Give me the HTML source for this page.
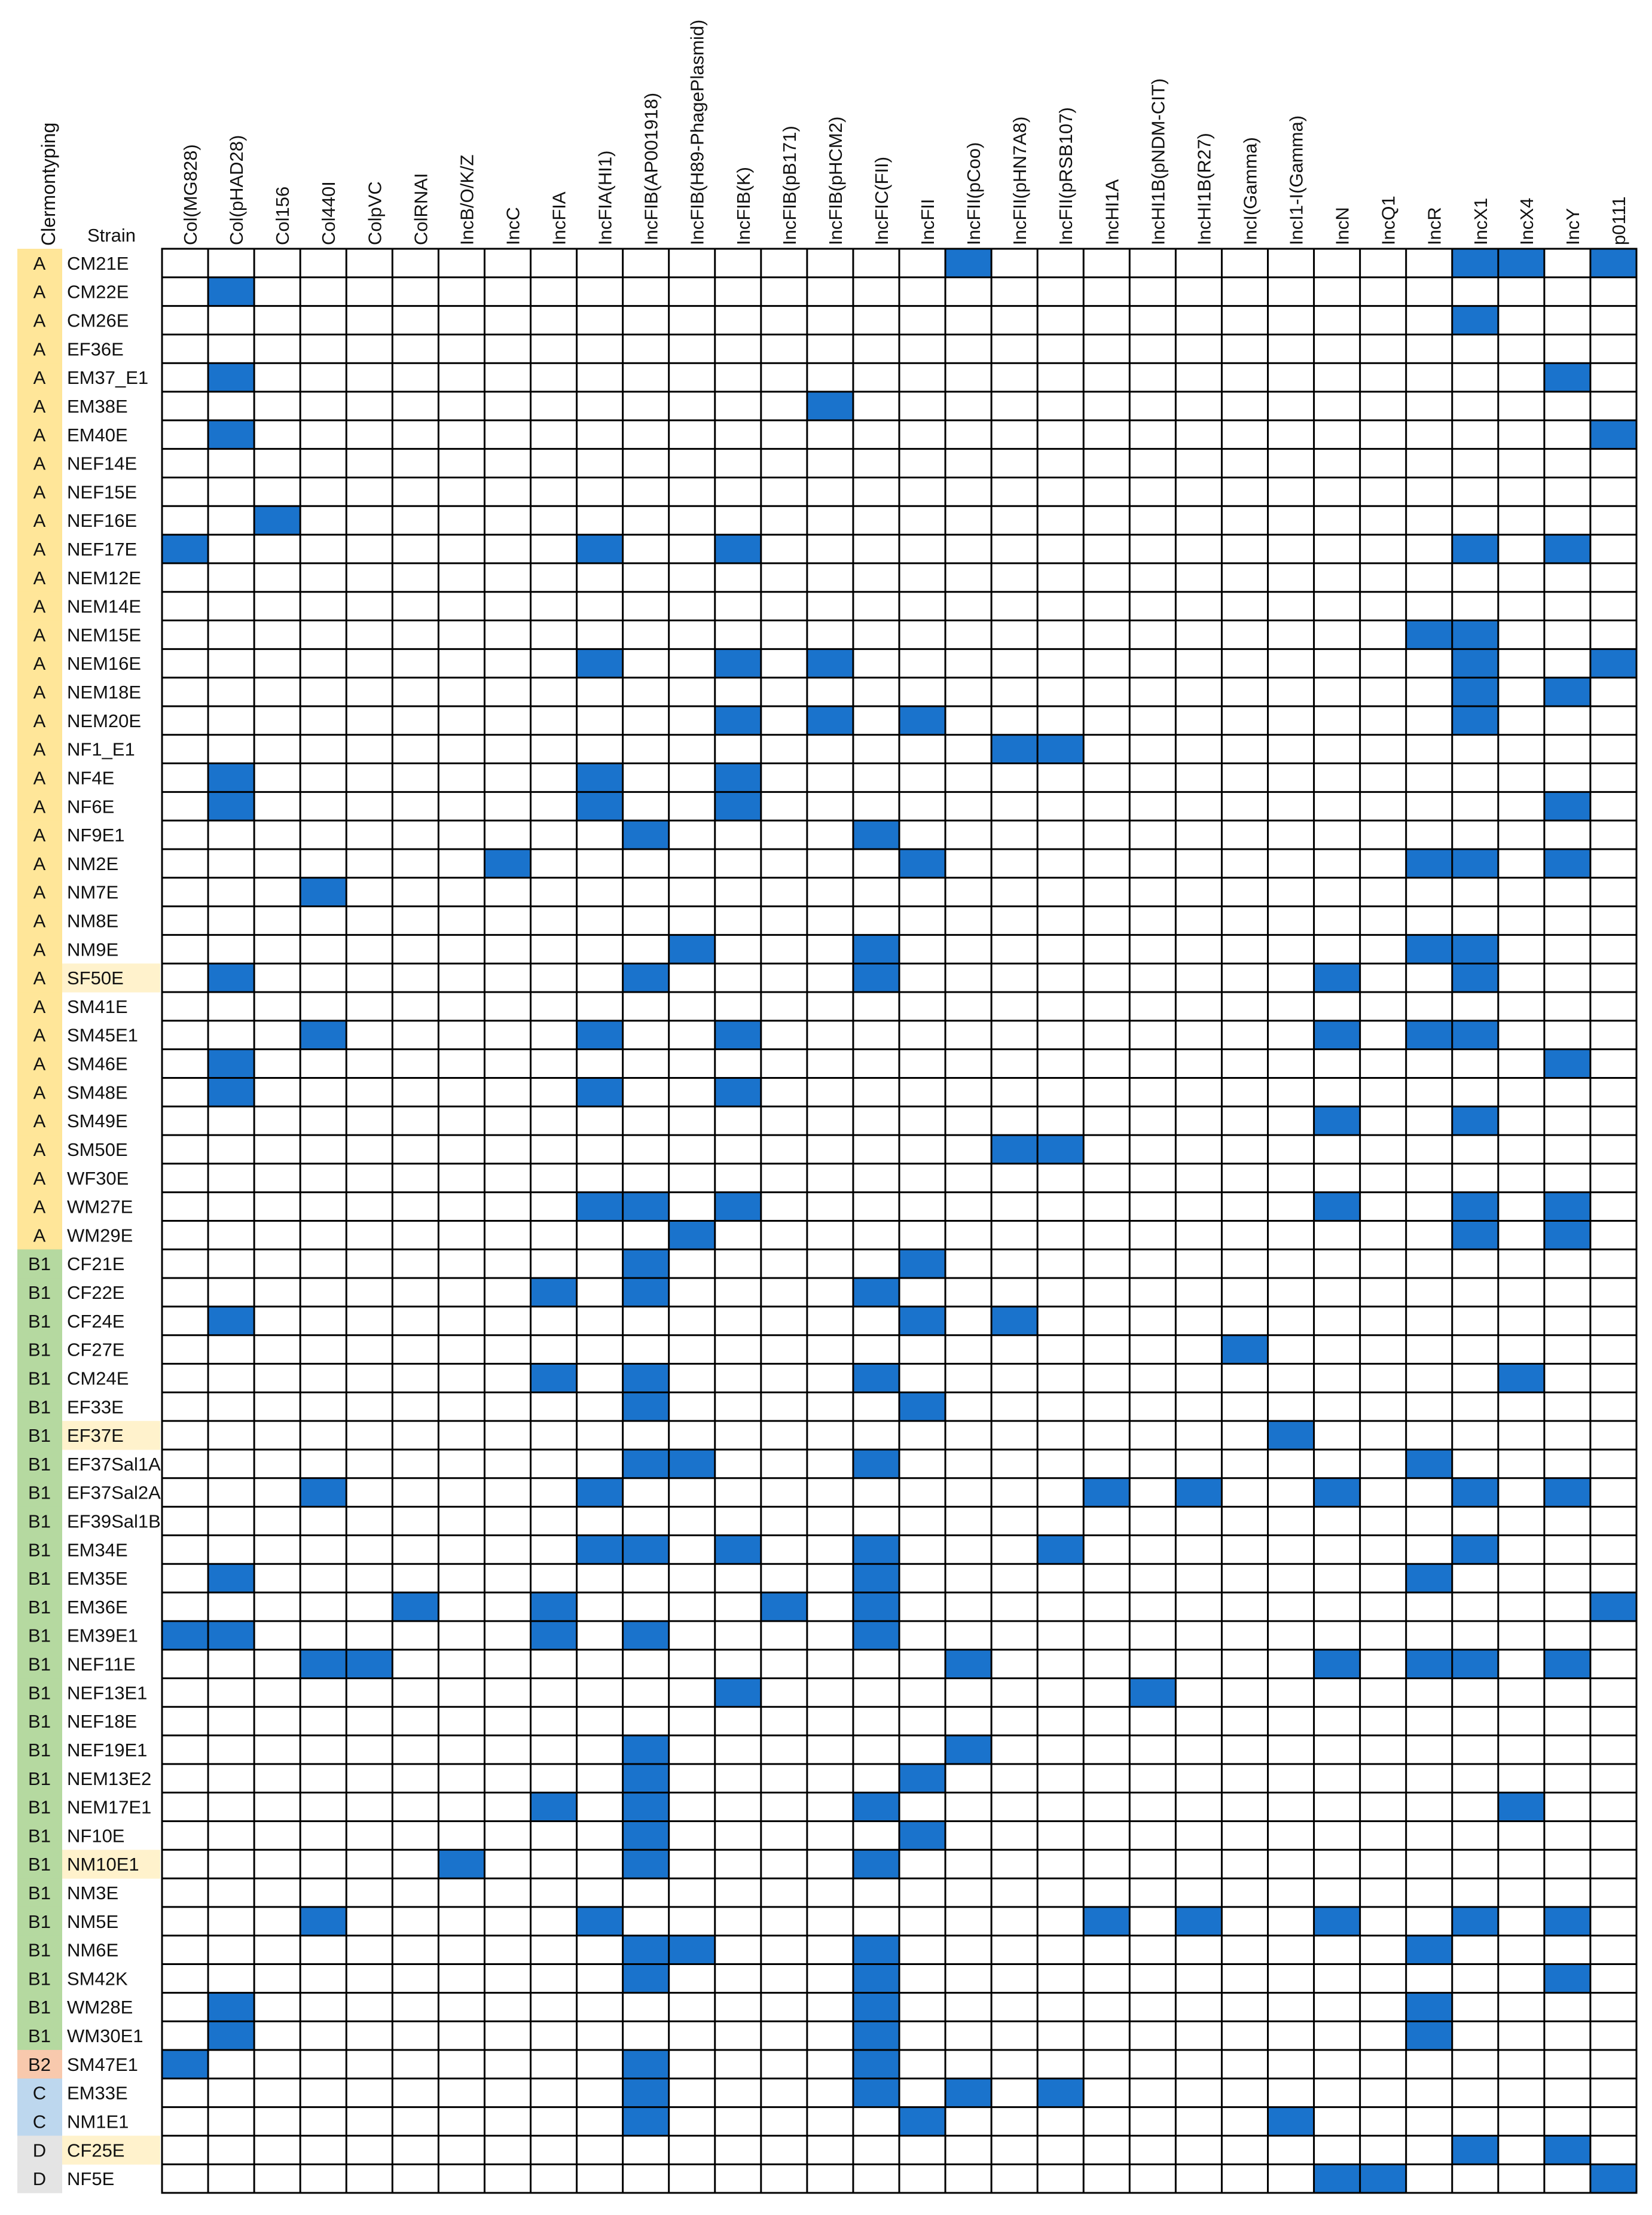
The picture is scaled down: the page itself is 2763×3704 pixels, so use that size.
<!DOCTYPE html>
<html><head><meta charset="utf-8">
<style>
html,body{margin:0;padding:0;background:#fff;}
svg{display:block;}
text{font-family:"Liberation Sans",sans-serif;fill:#111;}
</style></head>
<body>
<svg id="chart" width="2763" height="3704" viewBox="0 0 2763 3704" xmlns="http://www.w3.org/2000/svg"></svg>
<script>
const replicons = ["Col(MG828)","Col(pHAD28)","Col156","Col440I","ColpVC","ColRNAI","IncB/O/K/Z","IncC","IncFIA","IncFIA(HI1)","IncFIB(AP001918)","IncFIB(H89-PhagePlasmid)","IncFIB(K)","IncFIB(pB171)","IncFIB(pHCM2)","IncFIC(FII)","IncFII","IncFII(pCoo)","IncFII(pHN7A8)","IncFII(pRSB107)","IncHI1A","IncHI1B(pNDM-CIT)","IncHI1B(R27)","IncI(Gamma)","IncI1-I(Gamma)","IncN","IncQ1","IncR","IncX1","IncX4","IncY","p0111"];
const strains = ["CM21E","CM22E","CM26E","EF36E","EM37_E1","EM38E","EM40E","NEF14E","NEF15E","NEF16E","NEF17E","NEM12E","NEM14E","NEM15E","NEM16E","NEM18E","NEM20E","NF1_E1","NF4E","NF6E","NF9E1","NM2E","NM7E","NM8E","NM9E","SF50E","SM41E","SM45E1","SM46E","SM48E","SM49E","SM50E","WF30E","WM27E","WM29E","CF21E","CF22E","CF24E","CF27E","CM24E","EF33E","EF37E","EF37Sal1A","EF37Sal2A","EF39Sal1B","EM34E","EM35E","EM36E","EM39E1","NEF11E","NEF13E1","NEF18E","NEF19E1","NEM13E2","NEM17E1","NF10E","NM10E1","NM3E","NM5E","NM6E","SM42K","WM28E","WM30E1","SM47E1","EM33E","NM1E1","CF25E","NF5E"];
const phylogroups = ["A","A","A","A","A","A","A","A","A","A","A","A","A","A","A","A","A","A","A","A","A","A","A","A","A","A","A","A","A","A","A","A","A","A","A","B1","B1","B1","B1","B1","B1","B1","B1","B1","B1","B1","B1","B1","B1","B1","B1","B1","B1","B1","B1","B1","B1","B1","B1","B1","B1","B1","B1","B2","C","C","D","D"];
const highlighted = ["SF50E","EF37E","NM10E1","CF25E"];
const presence = [
[17,28,29,31],[1],[28],[],[1,30],[14],[1,31],[],[],[2],
[0,9,12,28,30],[],[],[27,28],[9,12,14,28,31],[28,30],[12,14,16,28],[18,19],[1,9,12],[1,9,12,30],
[10,15],[7,16,27,28,30],[3],[],[11,15,27,28],[1,10,15,25,28],[],[3,9,12,25,27,28],[1,30],[1,9,12],
[25,28],[18,19],[],[9,10,12,25,28,30],[11,28,30],
[10,16],[8,10,15],[1,16,18],[23],[8,10,15,29],[10,16],[24],[10,11,15,27],[3,9,20,22,25,28,30],[],
[9,10,12,15,19,28],[1,15,27],[5,8,13,15,31],[0,1,8,10,15],[3,4,17,25,27,28,30],[12,21],[],[10,17],[10,16],[8,10,15,29],
[10,16],[6,10,15],[],[3,9,20,22,25,28,30],[10,11,15,27],[10,15,30],[1,15,27],[1,15,27],
[0,10,15],[10,15,17,19],[10,16,24],[28,30],[25,26,31]
];
const groupColors = {"A":"#ffe699","B1":"#b5d9a0","B2":"#f8c9ad","C":"#bdd7ee","D":"#e4e4e4"};

const NS="http://www.w3.org/2000/svg";
const svg=document.getElementById('chart');
const X0=271, X1=2737, Y0=416, Y1=3667;
const cw=(X1-X0)/replicons.length, rh=(Y1-Y0)/strains.length;
const xAt=i=>X0+i*cw, yAt=j=>Y0+j*rh;
function mk(tag,attrs){const e=document.createElementNS(NS,tag);for(const k in attrs)e.setAttribute(k,attrs[k]);svg.appendChild(e);return e;}

let t=mk('text',{x:92,y:411,'font-size':32,transform:'rotate(-90 92 411)'});t.textContent='Clermontyping';


t=mk('text',{x:146,y:404,'font-size':31});t.textContent='Strain';



replicons.forEach((r,i)=>{
  const bx=xAt(i)+58, by=410;
  const e=mk('text',{x:bx,y:by,'font-size':31,transform:`rotate(-90 ${bx} ${by})`});
  e.textContent=r;
  
  
});

strains.forEach((s,j)=>{
  const y=yAt(j);
  const g=phylogroups[j];
  const band=mk('rect',{x:29,y:y,width:75,height:rh+0.5,fill:groupColors[g]});
  
  
  if(highlighted.includes(s)){
    const h=mk('rect',{x:104,y:y,width:164,height:rh+0.5,fill:'#fff2cc'});
    
    
  }
  const gt=mk('text',{x:66,y:y+rh/2+11,'font-size':31,'text-anchor':'middle'});
  gt.textContent=g;
  
  
  const st=mk('text',{x:112,y:y+rh/2+11,'font-size':31});
  st.textContent=s;
  
  
  presence[j].forEach(i=>{
    const c=mk('rect',{x:xAt(i),y:y,width:cw,height:rh,fill:'#1a73cc'});
    
    
  });
});

for(let i=0;i<=replicons.length;i++){
  const l=mk('line',{x1:xAt(i),y1:Y0,x2:xAt(i),y2:Y1,stroke:'#000','stroke-width':3});
  
  
}
for(let j=0;j<=strains.length;j++){
  const l=mk('line',{x1:X0-1.5,y1:yAt(j),x2:X1+1.5,y2:yAt(j),stroke:'#000','stroke-width':3});
  
  
}
</script>
</body></html>
